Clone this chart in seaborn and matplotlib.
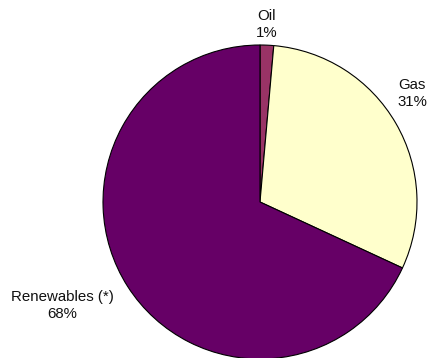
import matplotlib
matplotlib.use("Agg")
import matplotlib.pyplot as plt
import seaborn as sns

# data
sources = ['Oil', 'Gas', 'Renewables (*)']
shares = [1.4, 30.5, 68.1]
pct_labels = ['1%', '31%', '68%']
colors = ['#993366', '#FFFFCC', '#660066']

# label anchors in pie units (centre of each label block)
label_pos = [(0.04, 1.13), (0.97, 0.69), (-1.26, -0.66)]

sns.set_style('white')
plt.rcParams['font.family'] = ['Liberation Sans', 'DejaVu Sans']

fig = plt.figure(figsize=(4.30, 3.58), dpi=100)
ax = fig.add_axes([103 / 430, -1 / 358, 314 / 430, 314 / 358])

ax.pie(shares, colors=colors, startangle=90, counterclock=False,
       wedgeprops={'edgecolor': 'black', 'linewidth': 0.8})

for name, pct, (x, y) in zip(sources, pct_labels, label_pos):
    ax.text(x, y, f'{name}\n{pct}', ha='center', va='center',
            fontsize=10.8, linespacing=1.3, color='#111111')

ax.set_xlim(-1, 1)
ax.set_ylim(-1, 1)
ax.set_aspect('equal')
ax.axis('off')

fig.savefig('out.png', dpi=100)
